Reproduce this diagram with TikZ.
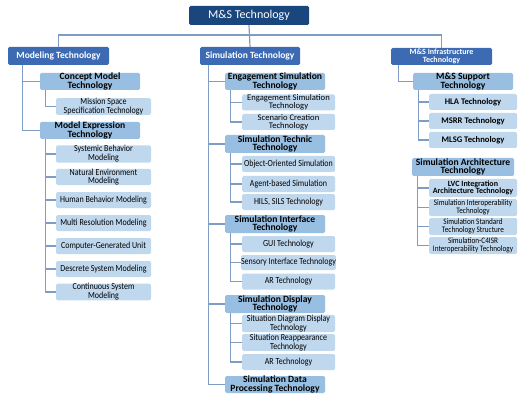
\documentclass[tikz,border=0pt]{standalone}
\usepackage{fontspec}
\setmainfont{Carlito}
\newfontfamily\leaffont[FakeStretch=0.86]{Carlito}

\definecolor{rootcol}{HTML}{1A467E}
\definecolor{topcol}{HTML}{3D6BB3}
\definecolor{midcol}{HTML}{98BFE1}
\definecolor{leafcol}{HTML}{BFD8EE}
\definecolor{linecol}{HTML}{7F9DC4}

\tikzset{
  conn/.style={draw=linecol, line width=1.2pt},
  box/.style={rounded corners=1.5pt, inner sep=0pt, align=center},
  rootbox/.style={box, fill=rootcol, text=white, minimum width=120pt, minimum height=19pt,
    font=\fontsize{12}{13}\selectfont},
  topbox/.style={box, fill=topcol, text=white, minimum width=101pt, minimum height=18pt,
    font=\bfseries\fontsize{9.5}{10}\selectfont},
  midbox/.style={box, fill=midcol, minimum width=100pt, minimum height=17pt,
    font=\bfseries\fontsize{9.6}{8.6}\selectfont},
  leafbox/.style={box, fill=leafcol, minimum width=#1, minimum height=16pt,
    font=\leaffont\fontsize{9.3}{7.8}\selectfont},
  leafbox/.default=95pt,
}

\begin{document}
\begin{tikzpicture}[x=1pt, y=-1pt]
  \useasboundingbox (0,0) rectangle (518,395);

  % Wurzel und erste Ebene
  \node[rootbox] (root) at (249,15.5) {M\&S Technology};
  \node[topbox] (mod) at (58.5,56) {Modeling Technology};
  \node[topbox, minimum width=100pt] (sim) at (250,56) {Simulation Technology};
  \node[topbox, minimum height=17pt, font=\bfseries\fontsize{8}{8}\selectfont] (infra) at (441.5,56.5)
    {M\&S Infrastructure\\Technology};
  \coordinate (bus) at (249,35);

  \draw[conn] (root.south) -- (sim.north);
  \draw[conn] (mod.north) |- (bus) -| (infra.north);

  % Modeling Technology
  \node[midbox] (cm) at (90,81.5) {Concept Model\\Technology};
  \node[leafbox] (mss) at (103.5,106.5) {Mission Space\\Specification Technology};
  \node[midbox] (me) at (90,130.5) {Model Expression\\Technology};
  \node[leafbox] (sb) at (103.5,154) {Systemic Behavior\\Modeling};
  \node[leafbox] (ne) at (103.5,177) {Natural Environment\\Modeling};
  \node[leafbox] (hb) at (103.5,200) {Human Behavior Modeling};
  \node[leafbox] (mr) at (103.5,223) {Multi Resolution Modeling};
  \node[leafbox] (cg) at (103.5,246) {Computer-Generated Unit};
  \node[leafbox] (ds) at (103.5,269) {Descrete System Modeling};
  \node[leafbox] (cs) at (103.5,292) {Continuous System\\Modeling};

  \foreach \n in {cm,me}
    \draw[conn] ([xshift=15pt]mod.south west) |- (\n.west);
  \draw[conn] ([xshift=6pt]cm.south west) |- (mss.west);
  \foreach \n in {sb,ne,hb,mr,cg,ds,cs}
    \draw[conn] ([xshift=6pt]me.south west) |- (\n.west);

  % Simulation Technology
  \node[midbox] (eng) at (275,81.5) {Engagement Simulation\\Technology};
  \node[leafbox=93pt, font=\fontsize{8.6}{7.8}\selectfont] (es) at (288.5,102.5) {Engagement Simulation\\Technology};
  \node[leafbox=93pt, font=\fontsize{8.6}{7.8}\selectfont] (sc) at (288.5,122) {Scenario Creation\\Technology};
  \node[midbox, minimum height=18pt] (tec) at (275,144) {Simulation Technic\\Technology};
  \node[leafbox=93pt] (oo) at (288.5,164) {Object-Oriented Simulation};
  \node[leafbox=93pt] (ab) at (288.5,184) {Agent-based Simulation};
  \node[leafbox=93pt] (hils) at (288.5,202) {HILS, SILS Technology};
  \node[midbox, minimum height=18pt] (itf) at (275,224) {Simulation Interface\\Technology};
  \node[leafbox=93pt] (gui) at (288.5,244) {GUI Technology};
  \node[leafbox=93pt, minimum height=15pt] (sens) at (288.5,262.5) {Sensory Interface Technology};
  \node[leafbox=93pt] (ar) at (288.5,281.5) {AR Technology};
  \node[midbox, minimum height=18pt] (disp) at (275,304) {Simulation Display\\Technology};
  \node[leafbox=93pt] (sdd) at (288.5,323.5) {Situation Diagram Display\\Technology};
  \node[leafbox=93pt] (sr) at (288.5,342.5) {Situation Reappearance\\Technology};
  \node[leafbox=93pt] (ardisp) at (288.5,362) {AR Technology};
  \node[midbox] (dat) at (275,384.5) {Simulation Data\\Processing Technology};

  \foreach \n in {eng,tec,itf,disp,dat}
    \draw[conn] ([xshift=9pt]sim.south west) |- (\n.west);
  \foreach \n in {es,sc}
    \draw[conn] ([xshift=6pt]eng.south west) |- (\n.west);
  \foreach \n in {oo,ab,hils}
    \draw[conn] ([xshift=6pt]tec.south west) |- (\n.west);
  \foreach \n in {gui,sens,ar}
    \draw[conn] ([xshift=6pt]itf.south west) |- (\n.west);
  \foreach \n in {sdd,sr,ardisp}
    \draw[conn] ([xshift=6pt]disp.south west) |- (\n.west);

  % M&S Infrastructure Technology
  \node[midbox] (sup) at (463,81.5) {M\&S Support\\Technology};
  \node[leafbox=88pt, font=\bfseries\fontsize{8.6}{8}\selectfont] (hla) at (473,102) {HLA Technology};
  \node[leafbox=88pt, font=\bfseries\fontsize{8.6}{8}\selectfont] (msrr) at (473,121) {MSRR Technology};
  \node[leafbox=88pt, font=\bfseries\fontsize{8.6}{8}\selectfont] (mlsg) at (473,140) {MLSG Technology};
  \node[midbox, minimum width=102pt, minimum height=18pt] (arch) at (463,167) {Simulation Architecture\\Technology};
  \node[leafbox=88pt, minimum height=18pt, font=\bfseries\fontsize{8}{7.6}\selectfont] (lvc) at (473,188)
    {LVC Integration\\Architecture Technology};
  \node[leafbox=88pt, minimum height=17pt, font=\leaffont\fontsize{8.4}{7.4}\selectfont] (sio) at (473,207.5)
    {Simulation Interoperability\\Technology};
  \node[leafbox=88pt, minimum height=17pt, font=\leaffont\fontsize{8.4}{7.4}\selectfont] (ssts) at (473,226.5)
    {Simulation Standard\\Technology Structure};
  \node[leafbox=88pt, minimum height=17pt, font=\leaffont\fontsize{8.4}{7.4}\selectfont] (c4) at (473,245.5)
    {Simulation-C4ISR\\Interoperability Technology};

  \draw[conn] ([xshift=8pt]infra.south west) |- (sup.west);
  \foreach \n in {hla,msrr,mlsg}
    \draw[conn] ([xshift=6pt]sup.south west) |- (\n.west);
  \foreach \n in {lvc,sio,ssts,c4}
    \draw[conn] ([xshift=6pt]arch.south west) |- (\n.west);
\end{tikzpicture}
\end{document}
